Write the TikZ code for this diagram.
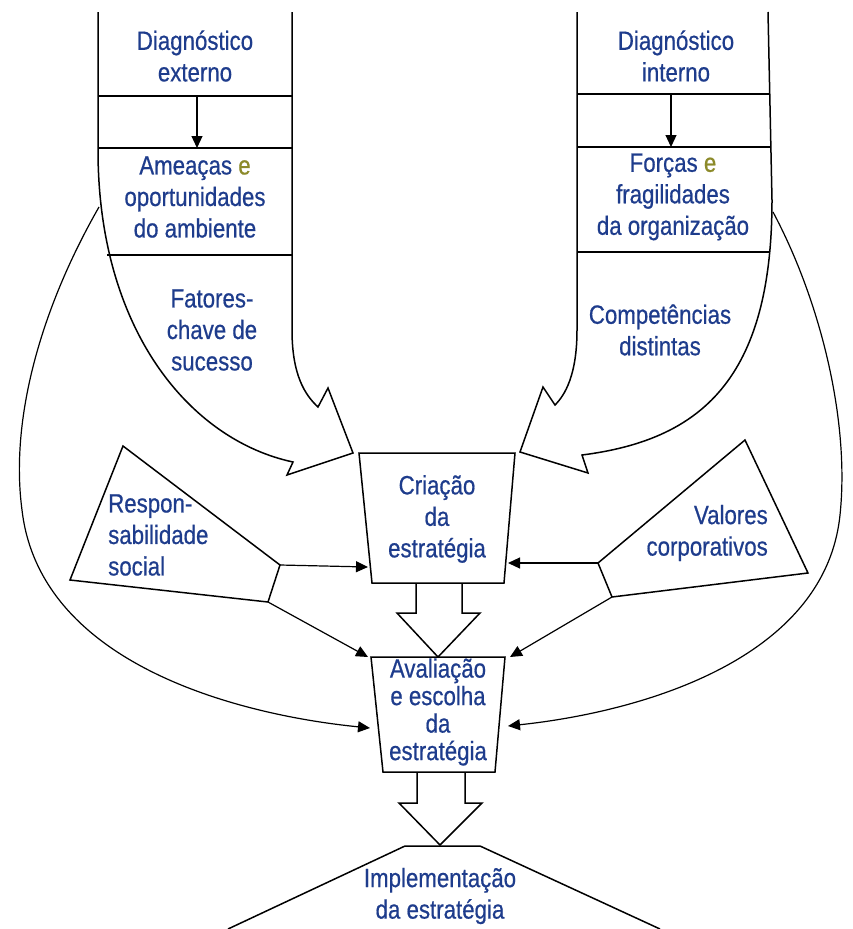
\documentclass[tikz,border=0pt]{standalone}
\usepackage{fontspec}
\setmainfont[FakeStretch=0.84,FakeBold=0.6]{Liberation Sans}
\usetikzlibrary{arrows.meta}
\definecolor{txtblue}{HTML}{1E3C8C}
\definecolor{olivee}{HTML}{8C8A2A}
\begin{document}
\begin{tikzpicture}[x=1pt,y=-1pt,
  line/.style={draw=black,line width=1.5pt,line join=miter},
  thin/.style={draw=black,line width=1.2pt},
  tri/.style={-{Triangle[length=12pt,width=11pt]}},
  lbl/.style={text=txtblue,font=\fontsize{26.5}{31.5}\selectfont,align=center,inner sep=0pt},
]
\useasboundingbox (0,0) rectangle (853,929);
% ---------- left column ----------
\coordinate (Ltl) at (98,12);
\coordinate (Ltr) at (292,12);
\coordinate (Lnotch1) at (318,407);
\coordinate (Lbarb1) at (328,388);
\coordinate (Ltip) at (353,453);
\coordinate (Lbarb2) at (287,475);
\coordinate (Lnotch2) at (293,462);
\draw[line] (Ltl) -- (98,150) .. controls (98,330) and (190,440) .. (Lnotch2)
  -- (Lbarb2) -- (Ltip) -- (Lbarb1) -- (Lnotch1)
  .. controls (305,395) and (292,375) .. (292,330) -- (Ltr);
\draw[thin] (98,96) -- (292,96);
\draw[thin] (98,148) -- (292,148);
\draw[thin] (107,255) -- (292,255);
\coordinate (La1) at (197,96);
\coordinate (La2) at (197,148);
\draw[thin,tri] (La1) -- (La2);
\node[lbl] (dext) at (195,56) {Diagnóstico\\externo};
\node[lbl] (ameac) at (195,197) {Ameaças \textcolor{olivee}{e}\\oportunidades\\do ambiente};
\node[lbl] (fator) at (212,330) {Fatores-\\chave de\\sucesso};
% ---------- right column ----------
\coordinate (Rtl) at (577,12);
\coordinate (Rtr) at (768,12);
\coordinate (Rnotch1) at (555,405);
\coordinate (Rbarb1) at (543,387);
\coordinate (Rtip) at (520,452);
\coordinate (Rbarb2) at (588,473);
\coordinate (Rnotch2) at (582,455);
\draw[line] (Rtl) -- (577,330) .. controls (577,375) and (565,395) .. (Rnotch1)
  -- (Rbarb1) -- (Rtip) -- (Rbarb2) -- (Rnotch2)
  .. controls (700,440) and (772,380) .. (772,200) -- (Rtr);
\draw[thin] (577,94) -- (769,94);
\draw[thin] (577,147) -- (770,147);
\draw[thin] (577,252) -- (769,252);
\coordinate (Ra1) at (671,94);
\coordinate (Ra2) at (671,147);
\draw[thin,tri] (Ra1) -- (Ra2);
\node[lbl] (dint) at (676,56) {Diagnóstico\\interno};
\node[lbl] (forc) at (673,197) {Forças \textcolor{olivee}{e}\\fragilidades\\da organização};
\node[lbl] (comp) at (660,330) {Competências\\distintas};
% ---------- Criação ----------
\coordinate (C1) at (359,453);
\coordinate (C2) at (515,453);
\coordinate (C3) at (504,583);
\coordinate (C4) at (372,583);
\draw[line] (C1) -- (C2) -- (C3) -- (C4) -- cycle;
\node[lbl] (cria) at (437,519) {Criação\\da\\estratégia};
% hollow arrow 1
\draw[line] (416,583) -- (416,613) -- (397,613) -- (438,657) -- (480,613) -- (462,613) -- (462,583);
% ---------- Avaliação ----------
\coordinate (A1) at (371,657);
\coordinate (A2) at (505,657);
\coordinate (A3) at (495,772);
\coordinate (A4) at (383,772);
\draw[line] (A1) -- (A2) -- (A3) -- (A4) -- cycle;
\node[lbl,font=\fontsize{26.5}{27.5}\selectfont] (aval) at (438,712) {Avaliação\\e escolha\\da\\estratégia};
% hollow arrow 2
\draw[line] (417,772) -- (417,803) -- (399,803) -- (440,845) -- (482,803) -- (465,803) -- (465,772);
% ---------- Implementação ----------
\draw[line] (228,929) -- (405,846) -- (480,846) -- (660,929);
\node[lbl] (impl) at (440,896) {Implementação\\da estratégia};
% ---------- Responsabilidade social ----------
\coordinate (S1) at (123,446);
\coordinate (S2) at (280,565);
\coordinate (S3) at (268,602);
\coordinate (S4) at (70,580);
\draw[line] (S1) -- (S2) -- (S3) -- (S4) -- cycle;
\node[lbl,align=left,anchor=west] (resp) at (108,535) {Respon-\\sabilidade\\social};
% ---------- Valores corporativos ----------
\coordinate (V1) at (745,440);
\coordinate (V2) at (808,573);
\coordinate (V3) at (612,597);
\coordinate (V4) at (598,563);
\draw[line] (V1) -- (V2) -- (V3) -- (V4) -- cycle;
\node[lbl,align=right,anchor=east] (valo) at (768,533) {Valores\\corporativos};
% ---------- connectors ----------
\coordinate (Cin1) at (368,567);
\coordinate (Cin2) at (508,563);
\coordinate (Ain1) at (368,657);
\coordinate (Ain2) at (510,657);
\coordinate (Ain3) at (370,728);
\coordinate (Ain4) at (508,726);
\draw[thin,tri] (S2) -- (Cin1);
\draw[thin,tri] (V4) -- (Cin2);
\draw[thin,tri] (S3) -- (Ain1);
\draw[thin,tri] (V3) -- (Ain2);
\coordinate (Lst) at (99,207);
\coordinate (Rst) at (773,212);
\draw[thin,tri] (Lst) .. controls (40,310) and (10,420) .. (22,510)
  .. controls (40,665) and (240,715) .. (Ain3);
\draw[thin,tri] (Rst) .. controls (820,300) and (850,420) .. (840,515)
  .. controls (825,660) and (640,712) .. (Ain4);
\end{tikzpicture}
\end{document}
